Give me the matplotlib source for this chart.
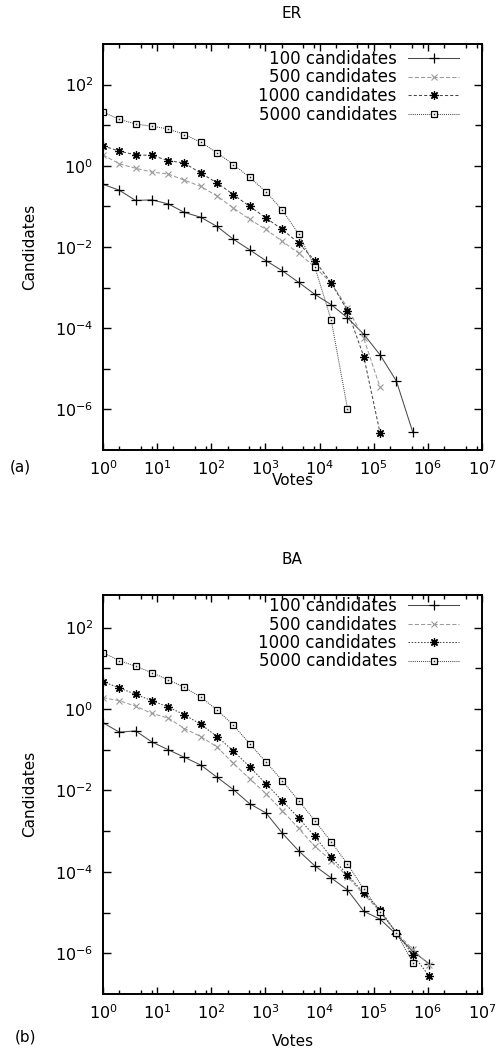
import matplotlib
matplotlib.use("Agg")
import matplotlib.pyplot as plt
from matplotlib.ticker import FixedLocator, LogLocator, LogFormatterSciNotation, NullFormatter
from matplotlib.legend_handler import HandlerTuple

plt.rcParams['font.family'] = ['DejaVu Sans']
plt.rcParams['mathtext.fontset'] = 'dejavusans'

# Votes bins (powers of two)
votes = [1, 2, 4, 8, 16, 32, 64, 128, 256, 512, 1024, 2048, 4096, 8192,
         16384, 32768, 65536, 131072, 262144, 524288, 1048576]

labels = ["100 candidates", "500 candidates", "1000 candidates", "5000 candidates"]

# ER network
er_100 = [0.35, 0.25, 0.14, 0.145, 0.115, 0.071, 0.054, 0.032, 0.0155, 0.0085,
          0.0046, 0.0026, 0.00135, 6.8e-4, 3.8e-4, 1.8e-4, 7.1e-5, 2.2e-5,
          5.0e-6, 2.8e-7]
er_500 = [1.86, 1.12, 0.87, 0.70, 0.63, 0.44, 0.31, 0.18, 0.091, 0.048,
          0.027, 0.0138, 0.0071, 0.0032, 0.0013, 3.2e-4, 5.6e-5, 3.5e-6]
er_1000 = [3.1, 2.3, 1.86, 1.8, 1.35, 1.16, 0.66, 0.38, 0.195, 0.10,
           0.052, 0.027, 0.0126, 0.0046, 0.0013, 2.7e-4, 2.0e-5, 2.6e-7]
er_5000 = [21, 14, 10.7, 9.4, 8.1, 5.9, 3.8, 2.1, 1.07, 0.52,
           0.23, 0.081, 0.021, 0.0032, 1.6e-4, 1.05e-6]

# BA network
ba_100 = [0.46, 0.27, 0.29, 0.155, 0.10, 0.065, 0.042, 0.021, 0.0105, 0.0047,
          0.0028, 8.9e-4, 3.3e-4, 1.4e-4, 7.1e-5, 3.6e-5, 1.07e-5, 6.9e-6,
          2.9e-6, 1.12e-6, 5.6e-7]
ba_500 = [1.9, 1.6, 1.17, 0.78, 0.60, 0.33, 0.21, 0.117, 0.046, 0.0195,
          0.0083, 0.0032, 0.00117, 4.2e-4, 1.9e-4, 7.6e-5, 2.8e-5, 1.07e-5,
          3.2e-6, 1.26e-6, 5.2e-7]
ba_1000 = [4.7, 3.3, 2.3, 1.6, 1.12, 0.72, 0.42, 0.21, 0.093, 0.038,
           0.0145, 0.0056, 0.0021, 7.4e-4, 2.3e-4, 8.5e-5, 3.0e-5, 1.17e-5,
           3.2e-6, 9.3e-7, 2.8e-7]
ba_5000 = [24, 15.5, 11.2, 7.8, 5.2, 3.4, 1.95, 0.95, 0.40, 0.14,
           0.050, 0.0174, 0.0056, 0.0018, 5.5e-4, 1.55e-4, 3.8e-5, 1.05e-5,
           3.2e-6, 5.9e-7]

W, H = 503, 1049
fig = plt.figure(figsize=(W / 100, H / 100), dpi=100)


def box(l, t, r, b):
    return [l / W, 1 - b / H, (r - l) / W, (b - t) / H]


def fx(x):
    return x / W


def fy(y):
    return 1 - y / H


DARK = '#4a4a4a'
GREY = '#9a9a9a'


def draw_panel(ax, series, styles, ytop):
    handles = []
    for vals, st in zip(series, styles):
        xs = votes[:len(vals)]
        if st['marker'] == 'box':
            ln, = ax.plot(xs, vals, linestyle=st['ls'], color=st['lc'], lw=0.75,
                          marker='s', ms=5.0, mfc='white', mec='black', mew=0.9)
            dot, = ax.plot(xs, vals, linestyle='none', marker='s', ms=1.1,
                           mfc='#222222', mec='#222222', mew=0)
            handles.append((ln, dot))
        else:
            ln, = ax.plot(xs, vals, linestyle=st['ls'], color=st['lc'], lw=0.75,
                          marker=st['marker'], ms=st['ms'], mec=st['mc'],
                          mfc=st['mc'], mew=st['mew'])
            handles.append(ln)

    ax.set_xscale('log')
    ax.set_yscale('log')
    ax.set_xlim(1, 1e7)
    ax.set_ylim(1e-7, ytop)

    ax.xaxis.set_major_locator(LogLocator(base=10, numticks=20))
    ax.xaxis.set_minor_locator(LogLocator(base=10, subs=(2, 5, 8), numticks=20))
    ax.xaxis.set_major_formatter(LogFormatterSciNotation())
    ax.xaxis.set_minor_formatter(NullFormatter())
    ax.yaxis.set_major_locator(FixedLocator([1e-6, 1e-4, 1e-2, 1, 1e2]))
    ax.yaxis.set_minor_locator(FixedLocator([1e-5, 1e-3, 1e-1, 1e1]))
    ax.yaxis.set_major_formatter(LogFormatterSciNotation())
    ax.yaxis.set_minor_formatter(NullFormatter())

    ax.tick_params(which='both', direction='in', top=True, right=True,
                   labelsize=11.5, pad=7, width=1.0, color='black')
    ax.tick_params(axis='y', which='major', length=6)
    ax.tick_params(axis='y', which='minor', length=5)
    ax.tick_params(axis='x', which='major', length=5)
    ax.tick_params(axis='x', which='minor', length=3)
    for s in ax.spines.values():
        s.set_linewidth(1.4)
        s.set_color('black')
    return handles


er_styles = [
    dict(ls='-', lc=DARK, marker='+', ms=6.5, mc='black', mew=0.9),
    dict(ls=(0, (4, 2)), lc=GREY, marker='x', ms=4.5, mc=GREY, mew=0.8),
    dict(ls=(0, (3, 2)), lc=DARK, marker=(8, 2, 0), ms=6, mc='black', mew=0.9),
    dict(ls=(0, (1, 1)), lc=DARK, marker='box'),
]
ba_styles = [
    dict(ls='-', lc=DARK, marker='+', ms=6.5, mc='black', mew=0.9),
    dict(ls=(0, (4, 2)), lc=GREY, marker='x', ms=4.5, mc=GREY, mew=0.8),
    dict(ls=(0, (1.5, 1.5)), lc=DARK, marker=(8, 2, 0), ms=6, mc='black', mew=0.9),
    dict(ls=(0, (1, 1)), lc=DARK, marker='box'),
]

ax1 = fig.add_axes(box(103, 44, 482, 450))
h1 = draw_panel(ax1, [er_100, er_500, er_1000, er_5000], er_styles, 1e3)
ax2 = fig.add_axes(box(103, 595, 482, 994))
h2 = draw_panel(ax2, [ba_100, ba_500, ba_1000, ba_5000], ba_styles, 10 ** 2.8)

for ax, hs, top in ((ax1, h1, 50), (ax2, h2, 597)):
    ax.legend(hs, labels, loc='upper right', bbox_to_anchor=(fx(459), fy(top)),
              bbox_transform=fig.transFigure, frameon=False, markerfirst=False,
              fontsize=12, handlelength=3.05, handletextpad=0.68,
              labelspacing=0.03, borderpad=0, borderaxespad=0,
              handler_map={tuple: HandlerTuple(ndivide=1, pad=0)})

# Panel titles and axis labels
fig.text(fx(292), fy(14), "ER", ha='center', va='center', fontsize=11)
fig.text(fx(292), fy(560), "BA", ha='center', va='center', fontsize=11)
for yc in (247, 794):
    fig.text(fx(30), fy(yc), "Candidates", ha='center', va='center',
             rotation=90, fontsize=11)
fig.text(fx(293), fy(481), "Votes", ha='center', va='center', fontsize=11)
fig.text(fx(293), fy(1041), "Votes", ha='center', va='center', fontsize=11)
fig.text(fx(20), fy(467), "(a)", ha='center', va='center', fontsize=11)
fig.text(fx(26), fy(1037), "(b)", ha='center', va='center', fontsize=11)

fig.savefig("out.png", dpi=100)
